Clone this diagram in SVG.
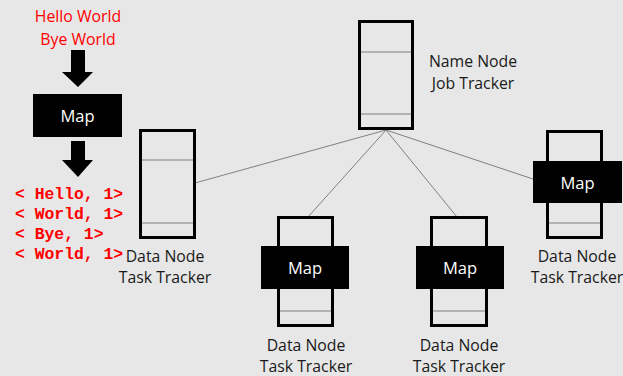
<svg xmlns="http://www.w3.org/2000/svg" width="623" height="376" viewBox="0 0 623 376">
  <style>
    .bg { fill: #e7e7e7; }
    .node { fill: none; stroke: #000; stroke-width: 3; }
    .div { stroke: #7f7f7f; stroke-width: 1.2; }
    .map { fill: #000; }
    .maplbl { font-family: "Open Sans", "Noto Sans", sans-serif; font-size: 16.5px; fill: #fff; text-anchor: middle; }
    .lbl { font-family: "Open Sans", "Noto Sans", sans-serif; font-size: 15.8px; fill: #1a1a1a; text-anchor: middle; }
    .red { font-family: "Open Sans", "Noto Sans", sans-serif; font-size: 15.8px; fill: #ff0000; text-anchor: middle; }
    .kv { font-family: "Liberation Mono", "Courier New", monospace; font-size: 16.4px; font-weight: bold; fill: #ff0000; }
    .link { stroke: #808080; stroke-width: 1; fill: none; }
  </style>

  <rect class="bg" x="0" y="0" width="623" height="376"/>

  <!-- connectors from the name node -->
  <g id="connectors">
    <line class="link" x1="386" y1="130" x2="195" y2="183"/>
    <line class="link" x1="386" y1="130" x2="308" y2="217"/>
    <line class="link" x1="386" y1="130" x2="457" y2="217"/>
    <line class="link" x1="386" y1="130" x2="533" y2="179"/>
  </g>

  <!-- word count example -->
  <g id="example">
    <text class="red" x="78" y="22">Hello World</text>
    <text class="red" x="78" y="45">Bye World</text>
    <polygon fill="#000" points="71,50 85,50 85,72 93,72 78,87 62,72 71,72"/>
    <rect class="map" x="33" y="94" width="89" height="43"/>
    <text class="maplbl" x="77.5" y="121.5">Map</text>
    <polygon fill="#000" points="71,141 85,141 85,160 93,160 78,177 62,160 71,160"/>
    <text class="kv" x="15" y="199" xml:space="preserve">&lt; Hello, 1&gt;</text>
    <text class="kv" x="15" y="219" xml:space="preserve">&lt; World, 1&gt;</text>
    <text class="kv" x="15" y="239" xml:space="preserve">&lt; Bye, 1&gt;</text>
    <text class="kv" x="15" y="259" xml:space="preserve">&lt; World, 1&gt;</text>
  </g>

  <g id="name-node">
    <rect class="node" x="359.5" y="21.5" width="53" height="107"/>
    <line class="div" x1="361" y1="52" x2="411" y2="52"/>
    <line class="div" x1="361" y1="114" x2="411" y2="114"/>
    <text class="lbl" x="473" y="67">Name Node</text>
    <text class="lbl" x="473" y="89">Job Tracker</text>
  </g>

  <g id="data-node-1">
    <rect class="node" x="140.5" y="130.5" width="54" height="107"/>
    <line class="div" x1="142" y1="160" x2="193" y2="160"/>
    <line class="div" x1="142" y1="223" x2="193" y2="223"/>
    <text class="lbl" x="165" y="262">Data Node</text>
    <text class="lbl" x="165" y="283">Task Tracker</text>
  </g>

  <g id="data-node-2">
    <rect class="node" x="278.5" y="217.5" width="54" height="108"/>
    <line class="div" x1="280" y1="311" x2="331" y2="311"/>
    <rect class="map" x="261" y="246" width="88" height="43"/>
    <text class="maplbl" x="305" y="273.5">Map</text>
    <text class="lbl" x="306" y="351">Data Node</text>
    <text class="lbl" x="306" y="372">Task Tracker</text>
  </g>

  <g id="data-node-3">
    <rect class="node" x="431.5" y="217.5" width="55" height="108"/>
    <line class="div" x1="433" y1="311" x2="485" y2="311"/>
    <rect class="map" x="416" y="246" width="88" height="43"/>
    <text class="maplbl" x="460" y="273.5">Map</text>
    <text class="lbl" x="459" y="351">Data Node</text>
    <text class="lbl" x="459" y="372">Task Tracker</text>
  </g>

  <g id="data-node-4">
    <rect class="node" x="547.5" y="131.5" width="54" height="106"/>
    <line class="div" x1="549" y1="223" x2="600" y2="223"/>
    <rect class="map" x="533" y="161" width="89" height="42"/>
    <text class="maplbl" x="577.5" y="188.5">Map</text>
    <text class="lbl" x="577" y="262">Data Node</text>
    <text class="lbl" x="577" y="283">Task Tracker</text>
  </g>
</svg>
